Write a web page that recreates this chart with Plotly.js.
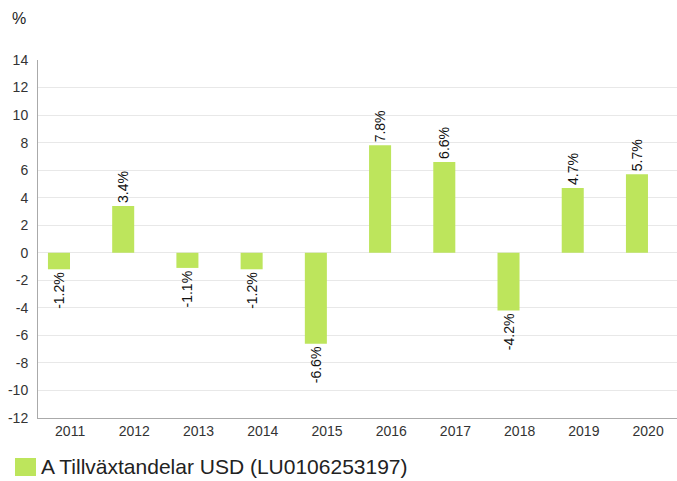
<!DOCTYPE html>
<html><head><meta charset="utf-8">
<script src="https://cdn.plot.ly/plotly-3.0.1.min.js"></script>
<style>html,body{margin:0;padding:0;background:#fff}#c{width:677px;height:481px}</style>
</head><body><div id="c"></div>
<script>
const years = ['2011','2012','2013','2014','2015','2016','2017','2018','2019','2020'];
const returns = [-1.2, 3.4, -1.1, -1.2, -6.6, 7.8, 6.6, -4.2, 4.7, 5.7];
const seriesName = 'A Tillväxtandelar USD (LU0106253197)';
const yTicks = [-12,-10,-8,-6,-4,-2,0,2,4,6,8,10,12,14];

const PW = 639, PH = 358;
const trace = {
  type: 'bar', x: years, y: returns, name: seriesName,
  marker: {color: '#bde55c'},
  width: 0.343, offset: -0.345,
  text: returns.map(v => v.toFixed(1) + '%'),
  textposition: 'outside', textangle: -90, constraintext: 'none',
  textfont: {family: 'Arial, Liberation Sans, sans-serif', size: 14, color: '#111'},
  cliponaxis: false,
  hoverinfo: 'none', showlegend: false
};
const layout = {
  width: 677, height: 481,
  margin: {l: 38, r: 0, t: 60, b: 63},
  paper_bgcolor: '#fff', plot_bgcolor: '#fff',
  font: {family: 'Arial, Liberation Sans, sans-serif', color: '#333', size: 14},
  showlegend: false,
  xaxis: {type: 'category', range: [-0.5, 9.45], showgrid: false, showline: true, linecolor: '#aaa', linewidth: 1,
          ticks: '', tickfont: {size: 14, color: '#333'}, zeroline: false, fixedrange: true},
  yaxis: {range: [-12, 14], tickvals: yTicks, ticktext: yTicks.map(String), showgrid: true, gridcolor: '#e8e8e8',
          zeroline: true, zerolinecolor: '#e8e8e8', zerolinewidth: 1, showline: true, linecolor: '#aaa', linewidth: 1,
          ticks: '', ticklabelstandoff: 6, tickfont: {size: 14, color: '#333'}, fixedrange: true},
  shapes: [{type: 'rect', xref: 'paper', yref: 'paper', x0: -23/PW, x1: -2/PW, y0: -40/PH, y1: -58/PH,
            fillcolor: '#bde55c', line: {width: 0}}],
  annotations: [
    {text: '%', xref: 'paper', yref: 'paper', x: -28/PW, y: 1 + 42/PH, xanchor: 'left', yanchor: 'middle',
     showarrow: false, font: {size: 16, color: '#222'}},
    {text: seriesName, xref: 'paper', yref: 'paper', x: 1/PW, y: -49/PH, xanchor: 'left', yanchor: 'middle',
     showarrow: false, font: {size: 21, color: '#222'}}
  ]
};
Plotly.newPlot('c', [trace], layout, {displayModeBar: false, staticPlot: true});
</script></body></html>
